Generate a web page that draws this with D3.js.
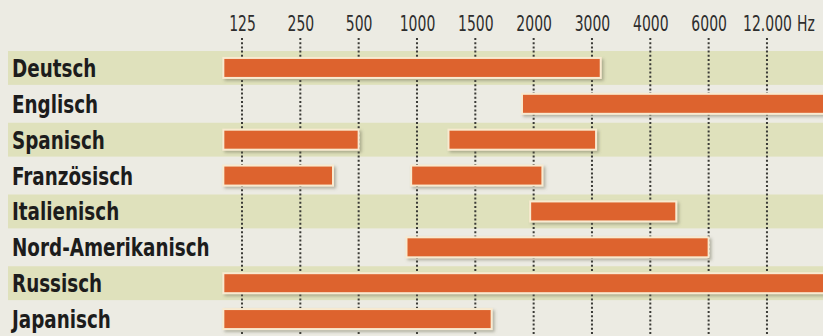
<!DOCTYPE html>
<html>
<head>
<meta charset="utf-8">
<script src="https://cdn.jsdelivr.net/npm/d3@7"></script>
<style>
  html, body { margin: 0; padding: 0; background: #ecebe3; }
  #chart { width: 823px; height: 336px; overflow: hidden; }
  .tick-label { font-family: "DejaVu Sans Condensed", "DejaVu Sans", sans-serif; font-size: 21px; fill: #2e2e2e; }
  .lang-label { font-family: "DejaVu Sans Condensed", "DejaVu Sans", sans-serif; font-weight: bold; font-size: 24px; fill: #1c1c1c; }
</style>
</head>
<body>
<div id="chart"></div>
<script>
// Frequenzbereiche der Sprachen (Hz)

const tickValues = [125, 250, 500, 1000, 1500, 2000, 3000, 4000, 6000, 12000];
const tickLabels = ["125", "250", "500", "1000", "1500", "2000", "3000", "4000", "6000", "12.000"];

const languages = ["Deutsch", "Englisch", "Spanisch", "Französisch", "Italienisch",
  "Nord-Amerikanisch", "Russisch", "Japanisch"];

// one or two ranges per language, [from, to] in Hz
const ranges = [
  [[85, 3150]],
  [[1900, 20000]],
  [[85, 500], [1270, 3070]],
  [[85, 390], [950, 2150]],
  [[1970, 4890]],
  [[910, 6000]],
  [[85, 20000]],
  [[85, 1640]]
];

const width = 823, height = 336;
const x0 = 242, step = 58.33;

const svg = d3.select("#chart").append("svg")
  .attr("width", width)
  .attr("height", height)
  .attr("viewBox", `0 0 ${width} ${height}`);

const defs = svg.append("defs");
const shadow = defs.append("filter").attr("id", "shadow")
  .attr("x", "-5%").attr("y", "-40%").attr("width", "110%").attr("height", "190%");
shadow.append("feDropShadow")
  .attr("dx", 2).attr("dy", 2).attr("stdDeviation", 1.5)
  .attr("flood-color", "#6b6b55").attr("flood-opacity", 0.45);

// piecewise scale: the ticks are evenly spaced, not logarithmic
const xScale = d3.scaleLinear()
  .domain(tickValues)
  .range(tickValues.map((d, i) => x0 + i * step));

const yScale = d3.scaleBand()
  .domain(languages)
  .range([50, 337]);

svg.append("rect")
  .attr("width", width).attr("height", height)
  .attr("fill", "#ecebe3");

// alternating row bands
svg.append("g").selectAll("rect")
  .data(languages.filter((d, i) => i % 2 === 0))
  .join("rect")
  .attr("x", 8)
  .attr("y", d => yScale(d) + 1)
  .attr("width", width - 8)
  .attr("height", yScale.bandwidth() - 2)
  .attr("fill", "#dfe1bc");

// dotted grid
svg.append("g").selectAll("line")
  .data(tickValues)
  .join("line")
  .attr("x1", d => xScale(d)).attr("x2", d => xScale(d))
  .attr("y1", 38).attr("y2", height)
  .attr("stroke", "#3a3a36")
  .attr("stroke-width", 2)
  .attr("stroke-dasharray", "2,2.2");

// top axis labels (condensed by scaleX)
const xAxis = d3.axisTop(xScale)
  .tickValues(tickValues)
  .tickFormat((d, i) => tickLabels[i])
  .tickSize(0)
  .tickPadding(0);

const xAxisG = svg.append("g")
  .attr("transform", "translate(0,31)")
  .call(xAxis);
xAxisG.select(".domain").remove();
xAxisG.selectAll("text")
  .attr("class", "tick-label")
  .attr("fill", null)
  .attr("dy", 0)
  .attr("transform", "scale(0.74,1)");

svg.append("text")
  .attr("class", "tick-label")
  .attr("transform", `translate(${xScale(12000) + 30},31) scale(0.74,1)`)
  .text("Hz");

// language labels
svg.append("g")
  .attr("transform", "translate(12,0) scale(0.85,1)")
  .selectAll("text")
  .data(languages)
  .join("text")
  .attr("class", "lang-label")
  .attr("x", 0)
  .attr("y", d => yScale(d) + yScale.bandwidth() / 2 + 9)
  .text(d => d);

// bars
const segs = ranges.flatMap((r, i) => r.map(([a, b]) => ({ lang: languages[i], a, b })));
const barH = 20;

svg.append("g").selectAll("rect")
  .data(segs)
  .join("rect")
  .attr("x", d => xScale(d.a))
  .attr("y", d => yScale(d.lang) + yScale.bandwidth() / 2 - barH / 2)
  .attr("width", d => xScale(d.b) - xScale(d.a))
  .attr("height", barH)
  .attr("fill", "#dd642f")
  .attr("stroke", "#f8ead0")
  .attr("stroke-width", 2)
  .attr("filter", "url(#shadow)");
</script>
</body>
</html>
